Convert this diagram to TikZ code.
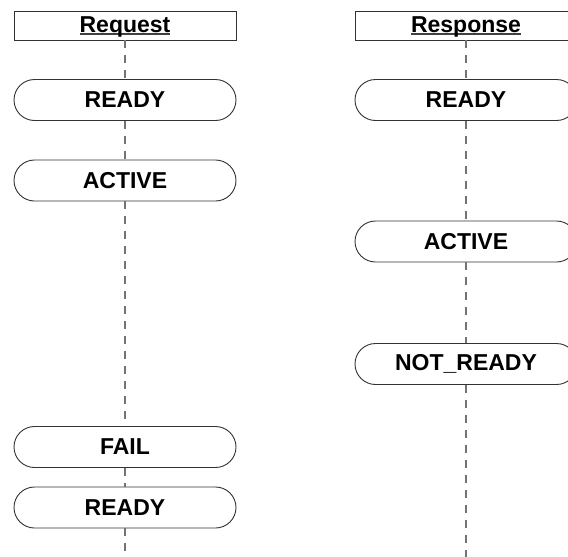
\documentclass[tikz,border=0pt]{standalone}
\usepackage{fontspec}
\setmainfont{Liberation Sans}
\usetikzlibrary{shapes.misc}
\newcommand{\ulabel}[1]{\setbox0\hbox{#1}\rlap{\color{black!75}\rule[-2.6pt]{\wd0}{1.6pt}}\box0}
\tikzset{
  header/.style={draw=black!80, line width=0.9pt, fill=white, minimum width=222pt, minimum height=29pt, inner sep=0pt},
  state/.style={rounded rectangle, draw=black!80, line width=0.9pt, fill=white, minimum width=222pt, minimum height=41pt, inner sep=0pt, font=\fontsize{23}{26}\selectfont\bfseries},
  lifeline/.style={draw=black!55, line width=1.8pt, dash pattern=on 8pt off 7pt},
  htext/.style={font=\fontsize{23}{26}\selectfont\bfseries, inner sep=0pt, anchor=base}
}
\begin{document}
\begin{tikzpicture}[x=1pt,y=-1pt]
\useasboundingbox (0,0) rectangle (568,557);
\clip (0,0) rectangle (568,557);
% headers
\node[header] (hq) at (125,25.5) {};
\node[htext] (tq) at (125,32) {\ulabel{Request}};
\node[header] (hp) at (466,25.5) {};
\node[htext] (tp) at (466,32) {\ulabel{Response}};
% request states
\node[state] (q1) at (125,100) {READY};
\node[state] (q2) at (125,180.5) {ACTIVE};
\node[state] (q3) at (125,447) {FAIL};
\node[state] (q4) at (125,507.5) {READY};
\coordinate (qend) at (125,560);
% response states
\node[state] (p1) at (466,100) {READY};
\node[state] (p2) at (466,241.5) {ACTIVE};
\node[state] (p3) at (466,364) {NOT\_READY};
\coordinate (pend) at (466,560);
% lifelines
\draw[lifeline] (hq.south) -- (q1.north);
\draw[lifeline] (q1.south) -- (q2.north);
\draw[lifeline] (q2.south) -- (q3.north);
\draw[lifeline] (q3.south) -- (q4.north);
\draw[lifeline] (q4.south) -- (qend);
\draw[lifeline] (hp.south) -- (p1.north);
\draw[lifeline] (p1.south) -- (p2.north);
\draw[lifeline] (p2.south) -- (p3.north);
\draw[lifeline] (p3.south) -- (pend);
\end{tikzpicture}
\end{document}
